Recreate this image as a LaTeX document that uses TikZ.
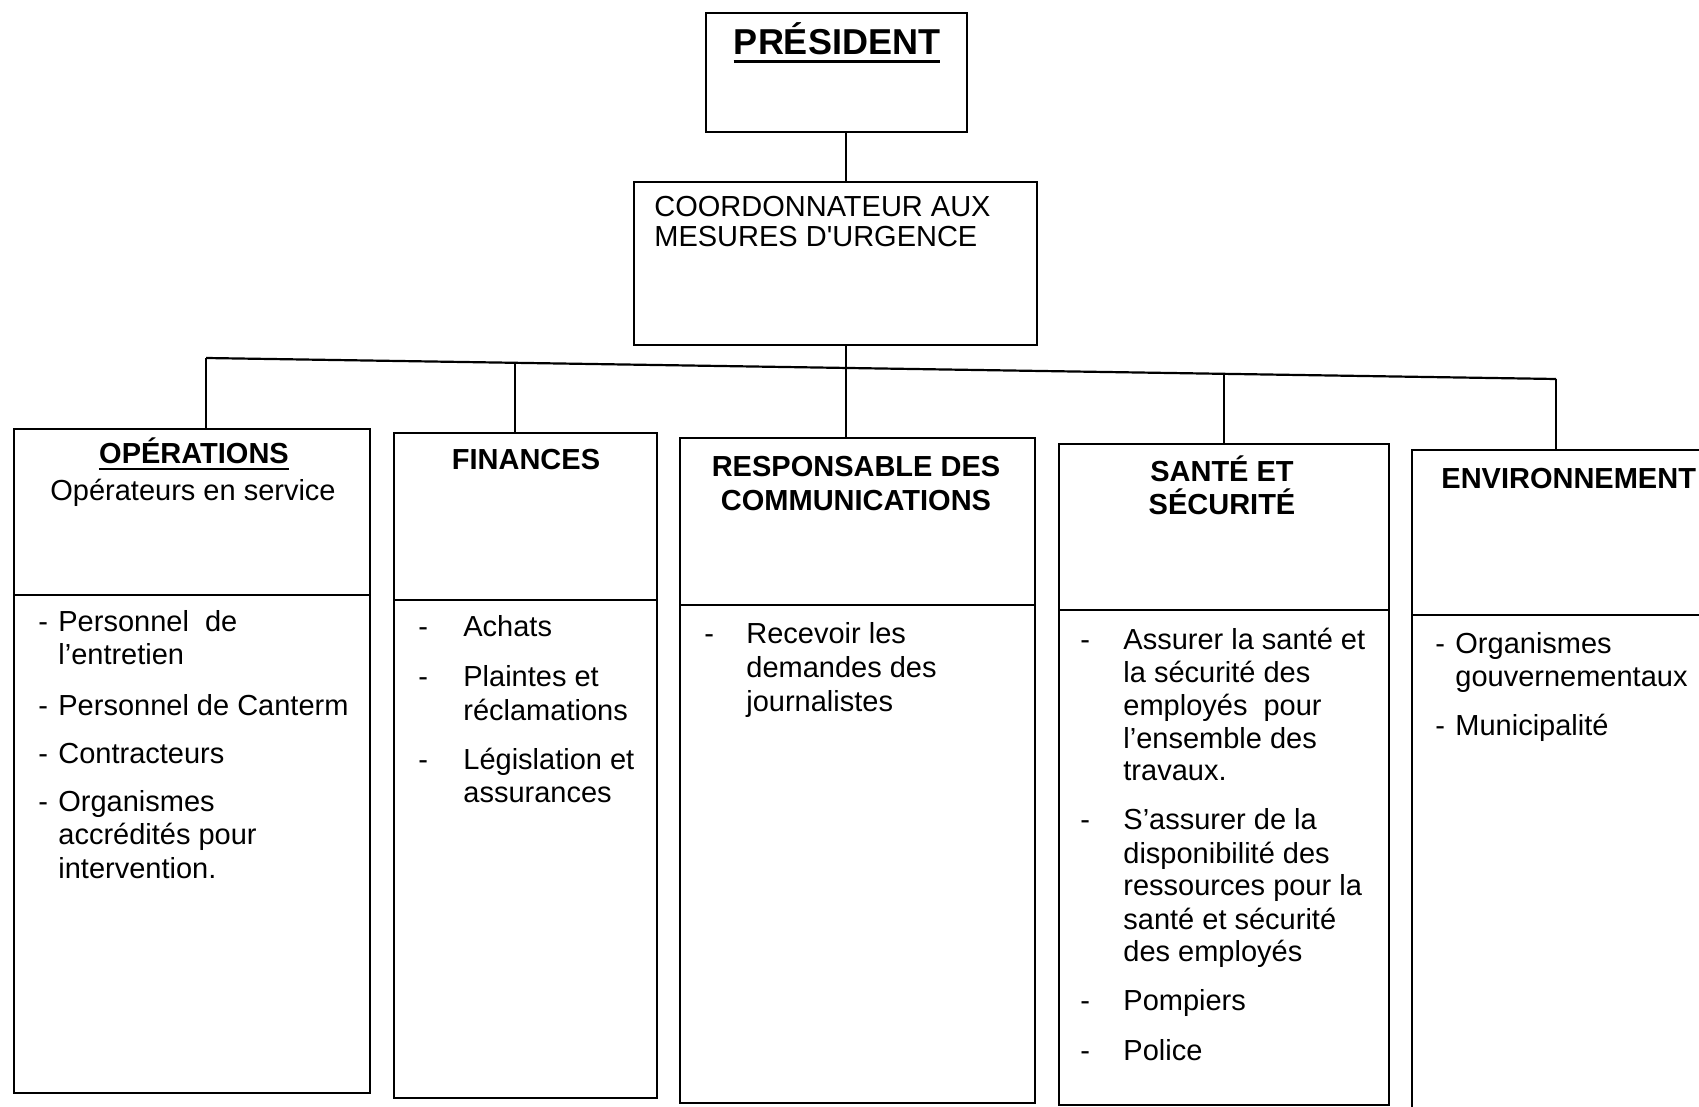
\documentclass[tikz,border=0pt]{standalone}
\usepackage{fontspec}
\setmainfont{Liberation Sans}[Ligatures=TeXOff]
\begin{document}
\begin{tikzpicture}[x=0.5pt,y=-0.5pt]
\tikzset{
 box/.style={draw, line width=1.2pt, anchor=north west, inner sep=0pt, outer sep=0pt},
 conn/.style={line width=1.1pt},
 txt/.style={inner sep=0pt, anchor=base west, font=\fontsize{14.5}{16.8}\selectfont},
 hdr/.style={inner sep=0pt, anchor=base, font=\bfseries\fontsize{14.5}{16.8}\selectfont},
 uline/.style={line width=1.2pt},
}
\useasboundingbox (0,0) rectangle (1699,1107);
\fill[white] (0,0) rectangle (1699,1107);
\clip (0,0) rectangle (1699,1107);

% boxes
\node[box, minimum width=130.5pt, minimum height=59.5pt] (pres) at (706,13) {};
\node[box, minimum width=201.5pt, minimum height=81.5pt] (coord) at (634,182) {};
\node[box, minimum width=178pt, minimum height=332pt] (ops) at (14,429) {};
\node[box, minimum width=131.5pt, minimum height=332.5pt] (fin) at (394,433) {};
\node[box, minimum width=177.5pt, minimum height=332.5pt] (com) at (680,438) {};
\node[box, minimum width=165pt, minimum height=330.5pt] (san) at (1059,444) {};
\node[box, minimum width=154pt, minimum height=345pt] (env) at (1412,450) {};

% dividers
\coordinate (dv1) at (0,595);
\coordinate (dv2) at (0,600);
\coordinate (dv3) at (0,605);
\coordinate (dv4) at (0,610);
\coordinate (dv5) at (0,615);
\draw[conn] (ops.west |- dv1) -- (ops.east |- dv1);
\draw[conn] (fin.west |- dv2) -- (fin.east |- dv2);
\draw[conn] (com.west |- dv3) -- (com.east |- dv3);
\draw[conn] (san.west |- dv4) -- (san.east |- dv4);
\draw[conn] (env.west |- dv5) -- (env.east |- dv5);

% connectors
\coordinate (j1) at (206,358);
\coordinate (j2) at (515,363);
\coordinate (j3) at (846,368);
\coordinate (j4) at (1224,374);
\coordinate (j5) at (1556,379);
\draw[conn] (pres.south -| j3) -- (coord.north -| j3);
\draw[conn] (coord.south -| j3) -- (j3 |- com.north);
\draw[conn] (j1) -- (j5);
\draw[conn] (j1) -- (j1 |- ops.north);
\draw[conn] (j2) -- (j2 |- fin.north);
\draw[conn] (j4) -- (j4 |- san.north);
\draw[conn] (j5) -- (j5 |- env.north);

% president
\node[hdr, font=\bfseries\fontsize{18}{20}\selectfont] (ptxt) at (837,55) {PRÉSIDENT};
\draw[line width=1.5pt] ([yshift=-3.5pt]ptxt.base west) -- ([yshift=-3.5pt]ptxt.base east);

% coordinator
\node[txt] (c1) at (654,217) {COORDONNATEUR AUX};
\node[txt] (c2) at (654,247) {MESURES D'URGENCE};

% operations
\node[hdr] (oh) at (194,464) {OPÉRATIONS};
\draw[uline] ([yshift=-2.6pt]oh.base west) -- ([yshift=-2.6pt]oh.base east);
\node[txt, anchor=base] (os) at (193,501) {Opérateurs en service};
\node[txt] (od1) at (38,631) {-};
\node[txt] (o1) at (58,631) {Personnel\ \ de};
\node[txt] (o2) at (58,664) {l’entretien};
\node[txt] (od2) at (38,715) {-};
\node[txt] (o3) at (58,715) {Personnel de Canterm};
\node[txt] (od3) at (38,763) {-};
\node[txt] (o4) at (58,763) {Contracteurs};
\node[txt] (od4) at (38,811) {-};
\node[txt] (o5) at (58,811) {Organismes};
\node[txt] (o6) at (58,844) {accrédités pour};
\node[txt] (o7) at (58,878) {intervention.};

% finances
\node[hdr] (fh) at (526,469) {FINANCES};
\node[txt] (fd1) at (418,636) {-};
\node[txt] (f1) at (463,636) {Achats};
\node[txt] (fd2) at (418,686) {-};
\node[txt] (f2) at (463,686) {Plaintes et};
\node[txt] (f3) at (463,720) {réclamations};
\node[txt] (fd3) at (418,769) {-};
\node[txt] (f4) at (463,769) {Législation et};
\node[txt] (f5) at (463,802) {assurances};

% communications
\node[hdr] (ch1) at (856,476) {RESPONSABLE DES};
\node[hdr] (ch2) at (856,510) {COMMUNICATIONS};
\node[txt] (cd1) at (704,643) {-};
\node[txt] (m1) at (746,643) {Recevoir les};
\node[txt] (m2) at (746,677) {demandes des};
\node[txt] (m3) at (746,711) {journalistes};

% sante
\node[hdr] (sh1) at (1222,481) {SANTÉ ET};
\node[hdr] (sh2) at (1222,515) {SÉCURITÉ};
\node[txt] (sd1) at (1080,649) {-};
\node[txt] (s1) at (1123,649) {Assurer la santé et};
\node[txt] (s2) at (1123,682) {la sécurité des};
\node[txt] (s3) at (1123,715) {employés\ \ pour};
\node[txt] (s4) at (1123,748) {l’ensemble des};
\node[txt] (s5) at (1123,780) {travaux.};
\node[txt] (sd2) at (1080,829) {-};
\node[txt] (s6) at (1123,829) {S’assurer de la};
\node[txt] (s7) at (1123,863) {disponibilité des};
\node[txt] (s8) at (1123,895) {ressources pour la};
\node[txt] (s9) at (1123,929) {santé et sécurité};
\node[txt] (s10) at (1123,961) {des employés};
\node[txt] (sd3) at (1080,1010) {-};
\node[txt] (s11) at (1123,1010) {Pompiers};
\node[txt] (sd4) at (1080,1060) {-};
\node[txt] (s12) at (1123,1060) {Police};

% environnement
\node[hdr, anchor=base west] (eh) at (1441,488) {ENVIRONNEMENT};
\node[txt] (ed1) at (1435,653) {-};
\node[txt] (e1) at (1455,653) {Organismes};
\node[txt] (e2) at (1455,686) {gouvernementaux};
\node[txt] (ed2) at (1435,735) {-};
\node[txt] (e3) at (1455,735) {Municipalité};
\end{tikzpicture}
\end{document}
